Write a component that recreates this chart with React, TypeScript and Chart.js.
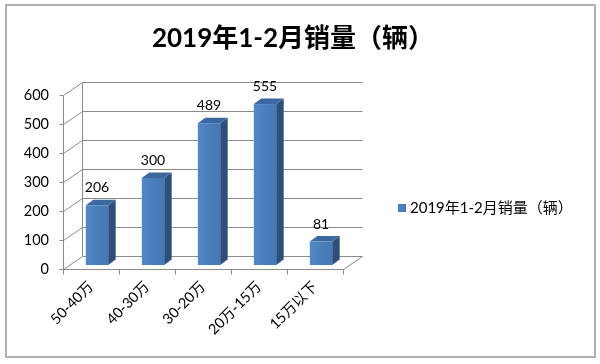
import React, { useEffect, useRef } from 'react';
import { Chart, registerables } from 'chart.js';

Chart.register(...registerables);

const TITLE = '2019年1-2月销量（辆）';
const SERIES_NAME = '2019年1-2月销量（辆）';
const CATEGORIES = ['50-40万', '40-30万', '30-20万', '20万-15万', '15万以下'];
const VALUES = [206, 300, 489, 555, 81];
const Y_MIN = 0;
const Y_MAX = 600;
const Y_STEP = 100;

const FONT = "Lato, 'Noto Sans CJK SC', sans-serif";
const FRONT = '#4a7ebb';
const SIDE = '#2e4f7c';
const TOP = '#3d68a2';
const GRID = '#8a8a8a';
const WALL_DX = 19;
const WALL_DY = -13;
const BAR_DX = 6;
const BAR_DY = -4;
const DEPTH_X = 7.5;
const DEPTH_Y = -5.5;

const excel3d = {
  id: 'excel3d',
  beforeDraw(chart: any) {
    const { ctx, chartArea: ca, scales } = chart;
    const ys = scales.y;
    ctx.save();
    ctx.fillStyle = '#ffffff';
    ctx.fillRect(0, 0, chart.width, chart.height);
    // outer frame
    ctx.strokeStyle = '#b0b0b0';
    ctx.lineWidth = 2;
    ctx.strokeRect(6, 5, 589, 352);
    // title
    ctx.fillStyle = '#000';
    ctx.font = `bold 26px ${FONT}`;
    ctx.textAlign = 'center';
    ctx.textBaseline = 'middle';
    ctx.fillText(TITLE, 293, 39);
    // legend
    ctx.fillStyle = FRONT;
    ctx.fillRect(398, 204, 8, 8);
    ctx.fillStyle = '#000';
    ctx.font = `15px ${FONT}`;
    ctx.textAlign = 'left';
    ctx.fillText(SERIES_NAME, 410, 208.5);

    // walls & gridlines
    ctx.strokeStyle = GRID;
    ctx.lineWidth = 1;
    const y0 = Math.round(ys.getPixelForValue(Y_MIN)) + 0.5;
    const yTop = Math.round(ys.getPixelForValue(Y_MAX)) + 0.5;
    const L = Math.round(ca.left) + 0.5;
    const R = Math.round(ca.right) + 0.5;
    ys.ticks.forEach((t: any) => {
      const py = Math.round(ys.getPixelForValue(t.value)) + 0.5;
      ctx.beginPath();
      ctx.moveTo(L - 4, py);
      ctx.lineTo(L, py);
      ctx.lineTo(L + WALL_DX, py + WALL_DY);
      ctx.lineTo(R + WALL_DX, py + WALL_DY);
      ctx.stroke();
    });
    ctx.beginPath();
    // back wall left edge
    ctx.moveTo(L + WALL_DX, y0 + WALL_DY);
    ctx.lineTo(L + WALL_DX, yTop + WALL_DY);
    // front vertical axis
    ctx.moveTo(L, y0);
    ctx.lineTo(L, yTop);
    // floor front edge and right edge
    ctx.moveTo(L, y0);
    ctx.lineTo(R, y0);
    ctx.lineTo(R + WALL_DX, y0 + WALL_DY);
    ctx.stroke();
    // category tick marks
    const xs = scales.x;
    const n = CATEGORIES.length;
    const step = (ca.right - ca.left) / n;
    ctx.beginPath();
    for (let i = 0; i <= n; i++) {
      const px = Math.round(xs.getPixelForValue(i) - step / 2) + 0.5;
      ctx.moveTo(px, y0);
      ctx.lineTo(px, y0 + 5);
    }
    ctx.stroke();
    ctx.restore();
  },
  afterDatasetsDraw(chart: any) {
    const { ctx } = chart;
    const meta = chart.getDatasetMeta(0);
    ctx.save();
    meta.data.forEach((el: any, i: number) => {
      const p = el.getProps(['x', 'y', 'base', 'width'], true);
      const left = p.x - p.width / 2 + BAR_DX;
      const right = left + p.width;
      const top = p.y + BAR_DY;
      const bottom = p.base + BAR_DY;
      // side
      ctx.fillStyle = SIDE;
      ctx.beginPath();
      ctx.moveTo(right, top);
      ctx.lineTo(right + DEPTH_X, top + DEPTH_Y);
      ctx.lineTo(right + DEPTH_X, bottom + DEPTH_Y);
      ctx.lineTo(right, bottom);
      ctx.closePath();
      ctx.fill();
      // top
      ctx.fillStyle = TOP;
      ctx.beginPath();
      ctx.moveTo(left, top);
      ctx.lineTo(left + DEPTH_X, top + DEPTH_Y);
      ctx.lineTo(right + DEPTH_X, top + DEPTH_Y);
      ctx.lineTo(right, top);
      ctx.closePath();
      ctx.fill();
      // front
      const g = ctx.createLinearGradient(left, 0, right, 0);
      g.addColorStop(0, '#5288c6');
      g.addColorStop(0.5, FRONT);
      g.addColorStop(1, '#4678b4');
      ctx.fillStyle = g;
      ctx.fillRect(left, top, p.width, bottom - top);
      // label
      ctx.fillStyle = '#000';
      ctx.font = `14px ${FONT}`;
      ctx.textAlign = 'center';
      ctx.textBaseline = 'bottom';
      ctx.fillText(String(VALUES[i]), (left + right) / 2, top + DEPTH_Y - 5);
    });
    ctx.restore();
  },
};

export default function App() {
  const ref = useRef<HTMLCanvasElement>(null);
  useEffect(() => {
    if (!ref.current) return;
    const chart = new Chart(ref.current, {
      type: 'bar',
      data: {
        labels: CATEGORIES,
        datasets: [
          {
            label: SERIES_NAME,
            data: VALUES,
            backgroundColor: 'rgba(0,0,0,0)',
            borderWidth: 0,
            categoryPercentage: 1,
            barPercentage: 0.4,
          },
        ],
      },
      options: {
        responsive: false,
        animation: false,
        devicePixelRatio: 1,
        events: [],
        layout: { padding: { left: 0, top: 95, right: 257, bottom: 0 } },
        plugins: {
          legend: { display: false },
          title: { display: false },
          tooltip: { enabled: false },
        },
        scales: {
          x: {
            grid: { display: false, drawTicks: false },
            border: { display: false },
            ticks: {
              color: '#000',
              font: { family: FONT, size: 14.5 },
              maxRotation: 45,
              minRotation: 45,
              padding: 9,
            },
            afterFit: (s: any) => {
              s.height = 95;
            },
          },
          y: {
            min: Y_MIN,
            max: Y_MAX,
            grid: { display: false, drawTicks: false },
            border: { display: false },
            ticks: {
              stepSize: Y_STEP,
              color: '#000',
              font: { family: FONT, size: 14.5 },
              padding: 14,
            },
            afterFit: (s: any) => {
              s.width = 63;
            },
          },
        },
      },
      plugins: [excel3d],
    });
    return () => chart.destroy();
  }, []);
  return (
    <div style={{ position: 'absolute', left: 0, top: 0, width: 600, height: 364 }}>
      <canvas ref={ref} width={600} height={364} />
    </div>
  );
}
